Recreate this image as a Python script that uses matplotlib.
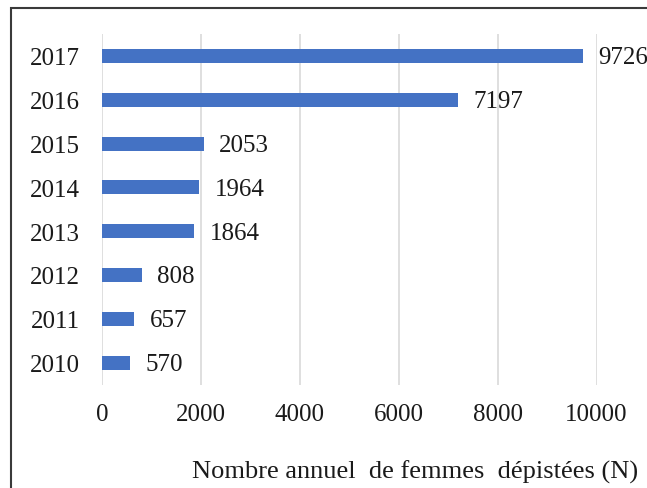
import matplotlib
matplotlib.use("Agg")
import matplotlib.pyplot as plt
from matplotlib.patches import Rectangle

years = ["2010", "2011", "2012", "2013", "2014", "2015", "2016", "2017"]
counts = [570, 657, 808, 1864, 1964, 2053, 7197, 9726]
xticks = [0, 2000, 4000, 6000, 8000, 10000]
xlabel = "Nombre annuel  de femmes  dépistées (N)"

plt.rcParams['font.family'] = ['Liberation Serif', 'DejaVu Serif']

W, H = 647, 489
FS = 18
fig = plt.figure(figsize=(W / 100, H / 100), dpi=100)
ax = fig.add_axes([102 / W, 1 - 385.5 / H, (596.6 - 102) / W, (385.5 - 35) / H])

ypos = list(range(len(years)))
ax.barh(ypos, counts, height=0.32, color="#4472C4", zorder=3)
for y, v in zip(ypos, counts):
    ax.annotate(str(v), xy=(v, y), xytext=(11, -1), textcoords="offset points",
                ha="left", va="center", fontsize=FS, color="#1a1a1a",
                annotation_clip=False)

ax.set_xlim(0, 10000)
ax.set_ylim(-0.5, len(years) - 0.5)
ax.set_xticks(xticks)
ax.set_xticklabels([str(t) for t in xticks])
ax.set_yticks(ypos)
ax.set_yticklabels(years)
ax.tick_params(axis="x", length=0, pad=13, labelsize=FS, labelcolor="#1a1a1a")
ax.tick_params(axis="y", length=0, pad=16, labelsize=FS, labelcolor="#1a1a1a")
for lab in ax.get_yticklabels():
    lab.set_verticalalignment("center_baseline")
ax.grid(axis="x", color="#d9d9d9", linewidth=1.2, zorder=0)
ax.grid(axis="y", visible=False)
for s in ax.spines.values():
    s.set_visible(False)

fig.text(192 / W, 1 - 472 / H, xlabel, ha="left", va="center", fontsize=19, color="#1a1a1a")

fig.add_artist(Rectangle((10.5 / W, -0.2), 1.5, 1 - 8.5 / H + 0.2, transform=fig.transFigure,
                         fill=False, edgecolor="#3a3a3a", linewidth=1.5))

fig.savefig("out.png", dpi=100)
